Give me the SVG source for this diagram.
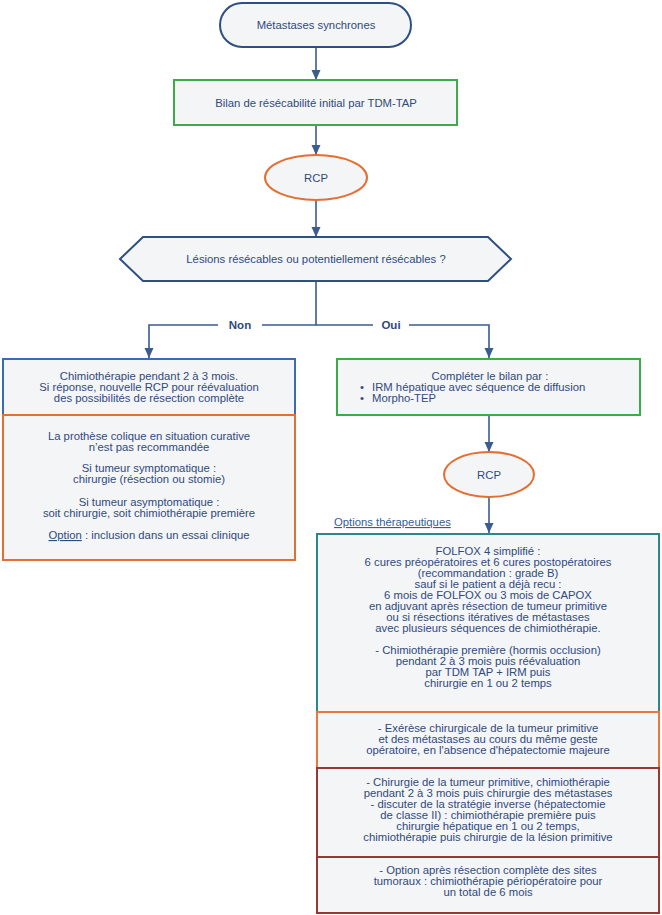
<svg xmlns="http://www.w3.org/2000/svg" width="662" height="915" viewBox="0 0 662 915">
<defs>
<style>
text{font-family:"Liberation Sans",Arial,sans-serif;font-size:11.3px;fill:#2f4a7d;text-anchor:middle}
.b{font-weight:bold;font-size:11.5px}
.l{text-anchor:start}
.box{fill:#f4f5f7;stroke-width:2}
.conn{fill:none;stroke:#3a5c8e;stroke-width:1.6}
.u{text-decoration:underline}
</style>
<marker id="ah" markerUnits="userSpaceOnUse" markerWidth="10" markerHeight="10" viewBox="0 0 10 10" refX="10" refY="5" orient="auto">
<path d="M0,0.5 L10,5 L0,9.5 Z" fill="#3a5c8e"/>
</marker>
</defs>
<rect width="662" height="915" fill="#ffffff"/>

<g id="connectors">
<line class="conn" x1="316" y1="47" x2="316" y2="80" marker-end="url(#ah)"/>
<line class="conn" x1="316" y1="125" x2="316" y2="155" marker-end="url(#ah)"/>
<line class="conn" x1="316" y1="200" x2="316" y2="237" marker-end="url(#ah)"/>
<polyline class="conn" points="316,281 316,325 262,325"/>
<polyline class="conn" points="218,325 149,325 149,358" marker-end="url(#ah)"/>
<polyline class="conn" points="316,325 373,325"/>
<polyline class="conn" points="409,325 489,325 489,358" marker-end="url(#ah)"/>
<line class="conn" x1="489" y1="415" x2="489" y2="452" marker-end="url(#ah)"/>
<line class="conn" x1="489" y1="497" x2="489" y2="533" marker-end="url(#ah)"/>
<text class="b" x="240" y="329">Non</text>
<text class="b" x="391" y="329">Oui</text>
</g>

<g id="n-start">
<rect class="box" x="220" y="3" width="191" height="44" rx="22" stroke="#2d4f82"/>
<text x="316" y="29">Métastases synchrones</text>
</g>

<g id="n-bilan">
<rect class="box" x="174" y="80" width="283" height="45" stroke="#3dab48"/>
<text x="316" y="107">Bilan de résécabilité initial par TDM-TAP</text>
</g>

<g id="n-rcp1">
<ellipse class="box" cx="316" cy="177.5" rx="51" ry="22.5" stroke="#e36f33"/>
<text x="316" y="182">RCP</text>
</g>

<g id="n-decision">
<polygon class="box" points="120,259 143,237 488,237 511,259 488,281 143,281" stroke="#2d4f82"/>
<text x="316" y="263">Lésions résécables ou potentiellement résécables ?</text>
</g>

<g id="n-chimio">
<rect class="box" x="3" y="359" width="292" height="56" stroke="#3a6db0"/>
<text x="149" y="380">Chimiothérapie pendant 2 à 3 mois.</text>
<text x="149" y="391">Si réponse, nouvelle RCP pour réévaluation</text>
<text x="149" y="402">des possibilités de résection complète</text>
</g>

<g id="n-prothese">
<rect class="box" x="3" y="415" width="292" height="145" stroke="#e36f33"/>
<text x="149" y="439.5">La prothèse colique en situation curative</text>
<text x="149" y="450.5">n’est pas recommandée</text>
<text x="149" y="471.5">Si tumeur symptomatique :</text>
<text x="149" y="482.5">chirurgie (résection ou stomie)</text>
<text x="149" y="505.5">Si tumeur asymptomatique :</text>
<text x="149" y="516.5">soit chirurgie, soit chimiothérapie première</text>
<text x="149" y="539"><tspan class="u">Option</tspan> : inclusion dans un essai clinique</text>
</g>

<g id="n-completer">
<rect class="box" x="337" y="359" width="303" height="56" stroke="#3dab48"/>
<text x="490" y="380">Compléter le bilan par :</text>
<text class="l" x="360" y="391">•</text>
<text class="l" x="372" y="391">IRM hépatique avec séquence de diffusion</text>
<text class="l" x="360" y="402">•</text>
<text class="l" x="372" y="402">Morpho-TEP</text>
</g>

<g id="n-rcp2">
<ellipse class="box" cx="489" cy="474.5" rx="45" ry="22.5" stroke="#e36f33"/>
<text x="489" y="479">RCP</text>
</g>

<g id="n-options-label">
<text class="l u" x="334" y="526" style="fill:#3a5c95">Options thérapeutiques</text>
</g>

<g id="n-folfox">
<rect class="box" x="317" y="534" width="342" height="178" stroke="#2a8888"/>
<text x="488" y="555">FOLFOX 4 simplifié :</text>
<text x="488" y="566">6 cures préopératoires et 6 cures postopératoires</text>
<text x="488" y="577">(recommandation : grade B)</text>
<text x="488" y="588">sauf si le patient a déjà recu :</text>
<text x="488" y="599">6 mois de FOLFOX ou 3 mois de CAPOX</text>
<text x="488" y="610">en adjuvant après résection de tumeur primitive</text>
<text x="488" y="621">ou si résections itératives de métastases</text>
<text x="488" y="632">avec plusieurs séquences de chimiothérapie.</text>
<text x="488" y="654">- Chimiothérapie première (hormis occlusion)</text>
<text x="488" y="665">pendant 2 à 3 mois puis réévaluation</text>
<text x="488" y="676">par TDM TAP + IRM puis</text>
<text x="488" y="687">chirurgie en 1 ou 2 temps</text>
</g>

<g id="n-exerese">
<rect class="box" x="317" y="712" width="342" height="56" stroke="#e8773c"/>
<text x="488" y="732">- Exérèse chirurgicale de la tumeur primitive</text>
<text x="488" y="743">et des métastases au cours du même geste</text>
<text x="488" y="754">opératoire, en l'absence d'hépatectomie majeure</text>
</g>

<g id="n-chirurgie">
<rect class="box" x="317" y="768" width="342" height="89" stroke="#993636"/>
<text x="488" y="786">- Chirurgie de la tumeur primitive, chimiothérapie</text>
<text x="488" y="797">pendant 2 à 3 mois puis chirurgie des métastases</text>
<text x="488" y="808">- discuter de la stratégie inverse (hépatectomie</text>
<text x="488" y="819">de classe II) : chimiothérapie première puis</text>
<text x="488" y="830">chirurgie hépatique en 1 ou 2 temps,</text>
<text x="488" y="841">chimiothérapie puis chirurgie de la lésion primitive</text>
</g>

<g id="n-option-post">
<rect class="box" x="317" y="857" width="342" height="56" stroke="#993636"/>
<text x="488" y="874">- Option après résection complète des sites</text>
<text x="488" y="885">tumoraux : chimiothérapie périopératoire pour</text>
<text x="488" y="896">un total de 6 mois</text>
</g>
</svg>
